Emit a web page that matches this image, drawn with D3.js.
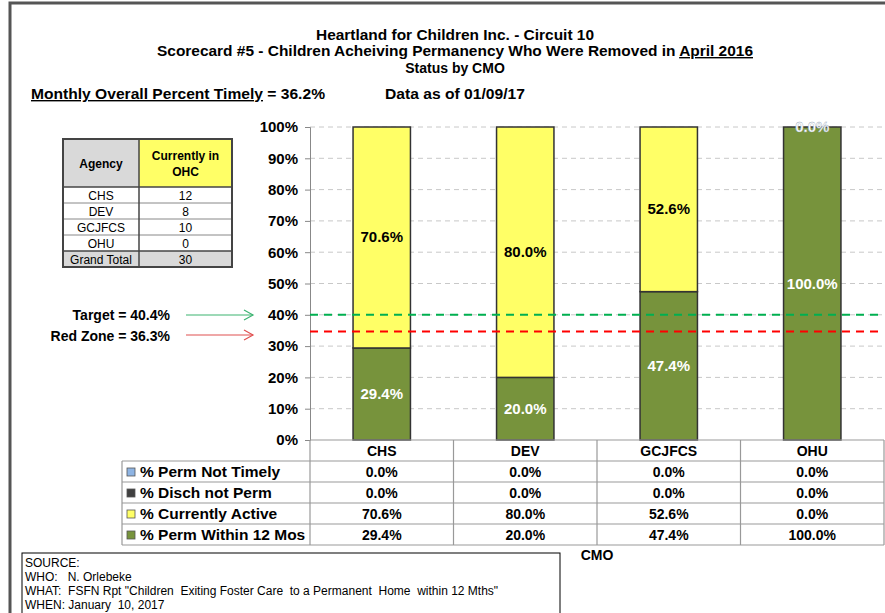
<!DOCTYPE html>
<html>
<head>
<meta charset="utf-8">
<script src="https://cdn.jsdelivr.net/npm/d3@7"></script>
<style>
  body { margin: 0; background: #fff; }
  svg { display: block; font-family: "Liberation Sans", Arial, sans-serif; }
</style>
</head>
<body>
<div class="chart"></div>
<script>
// ===== data =====
const categories = ['CHS', 'DEV', 'GCJFCS', 'OHU']
const seriesNames = ['% Perm Not Timely', '% Disch not Perm', '% Currently Active', '% Perm Within 12 Mos']
const permNotTimely = [0, 0, 0, 0]
const dischNotPerm = [0, 0, 0, 0]
const currentlyActive = [70.6, 80.0, 52.6, 0]
const permWithin12 = [29.4, 20.0, 47.4, 100]
const yTicks = [0, 10, 20, 30, 40, 50, 60, 70, 80, 90, 100]

const agencies = ['CHS', 'DEV', 'GCJFCS', 'OHU', 'Grand Total']
const currentlyInOHC = [12, 8, 10, 0, 30]

const targetLabel = 'Target = 40.4%'
const redZoneLabel = 'Red Zone = 36.3%'
const targetLine = 40.0
const redZoneLine = 34.7

const colors = {
  '% Perm Not Timely': '#8eb4e3',
  '% Disch not Perm': '#404040',
  '% Currently Active': '#ffff66',
  '% Perm Within 12 Mos': '#77933c'
}

const seriesValues = {
  '% Perm Not Timely': permNotTimely,
  '% Disch not Perm': dischNotPerm,
  '% Currently Active': currentlyActive,
  '% Perm Within 12 Mos': permWithin12
}

// ===== setup =====
const W = 885, H = 613
const svg = d3.select('.chart').append('svg')
  .attr('width', W)
  .attr('height', H)

// outer frame (cropped)
svg.append('path')
  .attr('d', `M10,${H} L10,3 L${W},3`)
  .attr('fill', 'none')
  .attr('stroke', '#555')
  .attr('stroke-width', 3)

// titles
const titles = svg.append('g')
  .attr('font-weight', 'bold')
  .attr('font-size', 14)
  .attr('text-anchor', 'middle')
titles.append('text').attr('x', 455).attr('y', 40)
  .attr('textLength', 278).attr('lengthAdjust', 'spacingAndGlyphs')
  .text('Heartland for Children Inc. - Circuit 10')
const t2 = titles.append('text').attr('x', 455).attr('y', 56)
  .attr('textLength', 596).attr('lengthAdjust', 'spacingAndGlyphs')
t2.append('tspan').text('Scorecard #5 - Children Acheiving Permanency Who Were Removed in ')
t2.append('tspan').attr('text-decoration', 'underline').text('April 2016')
titles.append('text').attr('x', 455).attr('y', 73)
  .text('Status by CMO')

const m = svg.append('text')
  .attr('x', 31).attr('y', 99)
  .attr('font-weight', 'bold').attr('font-size', 14)
  .attr('textLength', 294).attr('lengthAdjust', 'spacingAndGlyphs')
m.append('tspan').attr('text-decoration', 'underline').text('Monthly Overall Percent Timely')
m.append('tspan').text(' =  36.2%')
svg.append('text')
  .attr('x', 385).attr('y', 99)
  .attr('font-weight', 'bold').attr('font-size', 14)
  .attr('textLength', 140).attr('lengthAdjust', 'spacingAndGlyphs')
  .text('Data as of 01/09/17')

// ===== scales =====
const plotLeft = 310, plotRight = 884, plotTop = 127, plotBottom = 440
const xScale = d3.scaleBand()
  .domain(categories)
  .range([plotLeft, plotRight])
  .paddingInner(0)
  .paddingOuter(0)
const barW = xScale.bandwidth() * 0.4
const yScale = d3.scaleLinear()
  .domain([0, 100])
  .range([plotBottom, plotTop])

// gridlines
svg.append('g')
  .selectAll('line')
  .data(yTicks.filter(d => d > 0))
  .enter()
  .append('line')
    .attr('x1', plotLeft)
    .attr('x2', plotRight)
    .attr('y1', d => yScale(d))
    .attr('y2', d => yScale(d))
    .attr('stroke', '#c8c8c8')
    .attr('stroke-dasharray', '5,4')

// y axis
const yAxis = d3.axisLeft(yScale)
  .tickValues(yTicks)
  .tickSize(5)
  .tickPadding(7)
  .tickFormat(d => d + '%')
const yG = svg.append('g')
  .attr('transform', `translate(${plotLeft},0)`)
  .call(yAxis)
yG.select('.domain').attr('stroke', '#888')
yG.selectAll('.tick line').attr('stroke', '#888')
yG.selectAll('text')
  .attr('font-family', '"Liberation Sans", Arial, sans-serif')
  .attr('font-size', 15)
  .attr('font-weight', 'bold')
  .attr('fill', '#000')

// ===== stacked bars =====
const rows = categories.map((c, i) => {
  const r = { cat: c }
  seriesNames.forEach(s => { r[s] = seriesValues[s][i] })
  return r
})
const stackKeys = seriesNames.slice().reverse() // bottom to top
const stacked = d3.stack().keys(stackKeys)(rows)

const layers = svg.append('g')
  .selectAll('g')
  .data(stacked)
  .enter()
  .append('g')
    .attr('fill', d => colors[d.key])

layers.selectAll('rect')
  .data(d => d)
  .enter()
  .append('rect')
    .attr('x', d => xScale(d.data.cat) + (xScale.bandwidth() - barW) / 2)
    .attr('y', d => yScale(d[1]))
    .attr('width', barW)
    .attr('height', d => yScale(d[0]) - yScale(d[1]))
    .attr('stroke', '#333')
    .attr('stroke-width', 1.5)

// target / red zone lines
svg.append('line')
  .attr('x1', plotLeft).attr('x2', plotRight)
  .attr('y1', yScale(targetLine)).attr('y2', yScale(targetLine))
  .attr('stroke', '#00b050').attr('stroke-width', 2)
  .attr('stroke-dasharray', '8,6')
svg.append('line')
  .attr('x1', plotLeft).attr('x2', plotRight)
  .attr('y1', yScale(redZoneLine)).attr('y2', yScale(redZoneLine))
  .attr('stroke', '#ff0000').attr('stroke-width', 2)
  .attr('stroke-dasharray', '8,6')

// bar labels
const labelKeys = ['% Currently Active', '% Perm Within 12 Mos']
labelKeys.forEach(key => {
  const layer = stacked.find(s => s.key === key)
  svg.append('g').selectAll('text')
    .data(layer)
    .enter()
    .append('text')
      .attr('x', d => xScale(d.data.cat) + xScale.bandwidth() / 2)
      .attr('y', d => yScale((d[0] + d[1]) / 2) + 5)
      .attr('text-anchor', 'middle')
      .attr('font-size', 15)
      .attr('font-weight', 'bold')
      .attr('fill', d => (d[1] - d[0]) > 0 ? (key === '% Currently Active' ? '#000' : '#fff') : '#fff')
      .attr('stroke', d => (d[1] - d[0]) > 0 ? 'none' : '#9ab')
      .attr('stroke-width', 0.4)
      .text(d => (d[1] - d[0]).toFixed(1) + '%')
})

// ===== arrows to target / red zone =====
function arrow(y, color) {
  const g = svg.append('g').attr('stroke', color).attr('fill', 'none').attr('stroke-width', 1.2)
  g.append('line').attr('x1', 186).attr('x2', 253).attr('y1', y).attr('y2', y)
  g.append('path').attr('d', `M244,${y - 5} L253,${y} L244,${y + 5}`)
}
arrow(315, '#3cb371')
arrow(335, '#e05050')
svg.append('text')
  .attr('x', 170).attr('y', 320)
  .attr('text-anchor', 'end').attr('font-size', 14).attr('font-weight', 'bold')
  .text(targetLabel)
svg.append('text')
  .attr('x', 170).attr('y', 341)
  .attr('text-anchor', 'end').attr('font-size', 14).attr('font-weight', 'bold')
  .text(redZoneLabel)

// ===== data table under chart =====
const rowH = 21
const tableLeft = 122
const tbl = svg.append('g')
  .attr('stroke', '#999')
  .attr('stroke-width', 1.2)

// category header
svg.append('g').selectAll('text')
  .data(categories)
  .enter()
  .append('text')
    .attr('x', d => xScale(d) + xScale.bandwidth() / 2)
    .attr('y', plotBottom + 16)
    .attr('text-anchor', 'middle')
    .attr('font-size', 14).attr('font-weight', 'bold')
    .text(d => d)

// horizontal lines
d3.range(1, 6).forEach(i => {
  tbl.append('line')
    .attr('x1', tableLeft).attr('x2', plotRight)
    .attr('y1', plotBottom + i * rowH).attr('y2', plotBottom + i * rowH)
})
tbl.append('line').attr('x1', plotLeft).attr('x2', plotRight)
  .attr('y1', plotBottom).attr('y2', plotBottom)
// vertical lines
tbl.append('line').attr('x1', tableLeft).attr('x2', tableLeft)
  .attr('y1', plotBottom + rowH).attr('y2', plotBottom + 5 * rowH)
categories.forEach(c => {
  const x = xScale(c) + xScale.bandwidth()
  tbl.append('line').attr('x1', x).attr('x2', x)
    .attr('y1', plotBottom).attr('y2', plotBottom + 5 * rowH)
})
tbl.append('line').attr('x1', plotLeft).attr('x2', plotLeft)
  .attr('y1', plotBottom).attr('y2', plotBottom + 5 * rowH)

seriesNames.forEach((s, i) => {
  const y = plotBottom + (i + 1) * rowH
  svg.append('rect')
    .attr('x', 127).attr('y', y + 7)
    .attr('width', 8).attr('height', 8)
    .attr('fill', colors[s])
    .attr('stroke', '#555').attr('stroke-width', 0.8)
  svg.append('text')
    .attr('x', 140).attr('y', y + 16)
    .attr('font-size', 15.5).attr('font-weight', 'bold')
    .text(s)
  svg.append('g').selectAll('text')
    .data(seriesValues[s])
    .enter()
    .append('text')
      .attr('x', (d, j) => xScale(categories[j]) + xScale.bandwidth() / 2)
      .attr('y', y + 16)
      .attr('text-anchor', 'middle')
      .attr('font-size', 14).attr('font-weight', 'bold')
      .text(d => d.toFixed(1) + '%')
})

svg.append('text')
  .attr('x', 597).attr('y', 560)
  .attr('text-anchor', 'middle')
  .attr('font-size', 14).attr('font-weight', 'bold')
  .text('CMO')

// ===== agency table =====
const aLeft = 63, aMid = 139, aRight = 232, aTop = 139, aHeadH = 48, aRowH = 16
const agencyG = svg.append('g')
agencyG.append('rect').attr('x', aLeft).attr('y', aTop).attr('width', aMid - aLeft).attr('height', aHeadH).attr('fill', '#d9d9d9')
agencyG.append('rect').attr('x', aMid).attr('y', aTop).attr('width', aRight - aMid).attr('height', aHeadH).attr('fill', '#ffff66')
agencyG.append('rect').attr('x', aLeft).attr('y', aTop + aHeadH + 4 * aRowH).attr('width', aRight - aLeft).attr('height', aRowH).attr('fill', '#d9d9d9')
agencyG.append('text').attr('x', (aLeft + aMid) / 2).attr('y', aTop + 29)
  .attr('text-anchor', 'middle').attr('font-size', 12).attr('font-weight', 'bold').text('Agency')
agencyG.append('text').attr('x', (aMid + aRight) / 2).attr('y', aTop + 21)
  .attr('text-anchor', 'middle').attr('font-size', 12).attr('font-weight', 'bold').text('Currently in')
agencyG.append('text').attr('x', (aMid + aRight) / 2).attr('y', aTop + 37)
  .attr('text-anchor', 'middle').attr('font-size', 12).attr('font-weight', 'bold').text('OHC')
agencies.forEach((a, i) => {
  const y = aTop + aHeadH + i * aRowH
  agencyG.append('line').attr('x1', aLeft).attr('x2', aRight).attr('y1', y).attr('y2', y)
    .attr('stroke', i === 0 || i === 4 ? '#444' : '#888').attr('stroke-width', i === 0 || i === 4 ? 1.5 : 1)
  agencyG.append('text').attr('x', (aLeft + aMid) / 2).attr('y', y + 12.5)
    .attr('text-anchor', 'middle').attr('font-size', 12).text(a)
  agencyG.append('text').attr('x', (aMid + aRight) / 2).attr('y', y + 12.5)
    .attr('text-anchor', 'middle').attr('font-size', 12).text(currentlyInOHC[i])
})
agencyG.append('line').attr('x1', aMid).attr('x2', aMid).attr('y1', aTop).attr('y2', aTop + aHeadH + 5 * aRowH)
  .attr('stroke', '#444').attr('stroke-width', 1.5)
agencyG.append('rect').attr('x', aLeft).attr('y', aTop).attr('width', aRight - aLeft).attr('height', aHeadH + 5 * aRowH)
  .attr('fill', 'none').attr('stroke', '#444').attr('stroke-width', 2)

// ===== source box =====
svg.append('rect')
  .attr('x', 22).attr('y', 553).attr('width', 538).attr('height', 80)
  .attr('fill', '#fff').attr('stroke', '#000').attr('stroke-width', 1)
const sourceLines = [
  'SOURCE:',
  'WHO:   N. Orlebeke',
  'WHAT:  FSFN Rpt "Children  Exiting Foster Care  to a Permanent  Home  within 12 Mths"',
  'WHEN: January  10, 2017'
]
svg.append('g').selectAll('text')
  .data(sourceLines)
  .enter()
  .append('text')
    .attr('x', 25)
    .attr('y', (d, i) => 567 + i * 14)
    .attr('font-size', 12)
    .attr('xml:space', 'preserve')
    .style('white-space', 'pre')
    .text(d => d)
</script>
</body>
</html>
